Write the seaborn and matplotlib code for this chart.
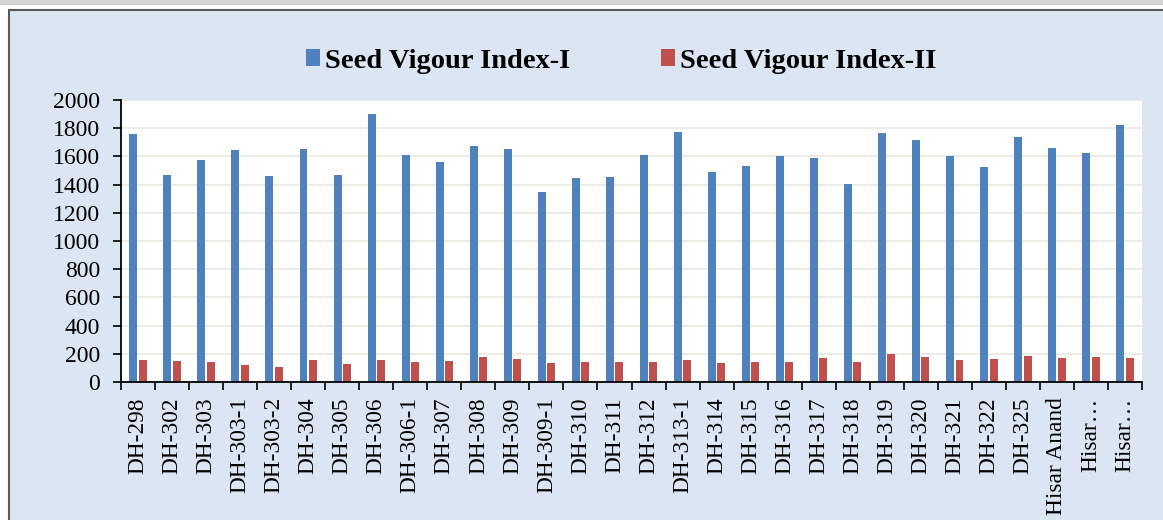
import matplotlib
matplotlib.use("Agg")
import matplotlib.pyplot as plt
from matplotlib.patches import Rectangle, Patch
from matplotlib.ticker import MultipleLocator, FixedLocator
import numpy as np
import pandas as pd
import seaborn as sns

# data
genotypes = ['DH-298', 'DH-302', 'DH-303', 'DH-303-1', 'DH-303-2', 'DH-304', 'DH-305',
             'DH-306', 'DH-306-1', 'DH-307', 'DH-308', 'DH-309', 'DH-309-1', 'DH-310',
             'DH-311', 'DH-312', 'DH-313-1', 'DH-314', 'DH-315', 'DH-316', 'DH-317',
             'DH-318', 'DH-319', 'DH-320', 'DH-321', 'DH-322', 'DH-325', 'Hisar Anand',
             'Hisar…', 'Hisar…']
svi_1 = [1758, 1468, 1576, 1647, 1464, 1652, 1471, 1901, 1607, 1562, 1671, 1652, 1344, 1445,
         1456, 1612, 1774, 1489, 1534, 1605, 1591, 1407, 1769, 1718, 1605, 1527, 1736, 1661,
         1626, 1821]
svi_2 = [156, 149, 141, 124, 105, 156, 129, 156, 141, 149, 176, 166, 134, 139,
         144, 141, 159, 134, 144, 144, 168, 141, 200, 178, 156, 161, 185, 171,
         176, 168]
series_names = ['Seed Vigour Index-I', 'Seed Vigour Index-II']
colors = ['#4F81BD', '#C0504D']

plt.rcParams['font.family'] = ['Liberation Serif', 'DejaVu Serif']

# unique keys so the two "Hisar…" labels stay separate categories
keys = [str(i) for i in range(len(genotypes))]
df = pd.DataFrame({
    'key': keys * 2,
    'value': svi_1 + svi_2,
    'series': [series_names[0]] * len(keys) + [series_names[1]] * len(keys),
})

fig = plt.figure(figsize=(11.63, 5.2), dpi=100)
fig.patch.set_facecolor('white')

W, H = 1163, 520
# grey strip on top (end of the caption line above)
fig.patches.append(Rectangle((0, 1 - 5 / H), 1, 5 / H, transform=fig.transFigure,
                             facecolor='#D4D4D4', edgecolor='none', zorder=-2))
# chart frame
fig.patches.append(Rectangle((9 / W, -0.1), 1.1, 1 - 10 / H + 0.1, transform=fig.transFigure,
                             facecolor='#DCE6F2', edgecolor='#5A5A5A', linewidth=1.5, zorder=-2))

ax = fig.add_axes([121 / W, 138 / H, (1142 - 121) / W, 282 / H])
ax.set_zorder(2)
ax.set_facecolor('white')

sns.barplot(data=df, x='key', y='value', hue='series', order=keys,
            palette=colors, saturation=1, width=0.55, gap=0.15, ax=ax, legend=False)

ax.set_xlim(-0.5, len(genotypes) - 0.5)
ax.set_ylim(0, 2000)
ax.yaxis.set_major_locator(MultipleLocator(200))
ax.grid(axis='y', color='#EAE8DF', linewidth=1.2)
ax.set_axisbelow(True)

for s in ['top', 'right']:
    ax.spines[s].set_visible(False)
for s in ['left', 'bottom']:
    ax.spines[s].set_color('black')
    ax.spines[s].set_linewidth(1.3)

ax.set_xticks(range(len(genotypes)))
ax.set_xticklabels(genotypes, rotation=90, fontsize=16.8)
ax.xaxis.set_minor_locator(FixedLocator(np.arange(-0.5, len(genotypes), 1)))
ax.tick_params(axis='x', which='major', length=0, pad=11)
ax.tick_params(axis='x', which='minor', length=6, width=1.2, color='black')
ax.tick_params(axis='y', length=6, width=1.2, color='black', labelsize=17, pad=9)
ax.set_xlabel('')
ax.set_ylabel('')

handles = [Patch(facecolor=c, edgecolor='none') for c in colors]
fig.legend(handles, series_names, loc='center', bbox_to_anchor=(621 / W, 1 - 61 / H),
           ncol=2, frameon=False, prop={'weight': 'bold', 'size': 20.5},
           handlelength=0.5, handleheight=0.5, handletextpad=0.15, columnspacing=3.2)

fig.savefig('out.png', dpi=100, facecolor=fig.get_facecolor())
